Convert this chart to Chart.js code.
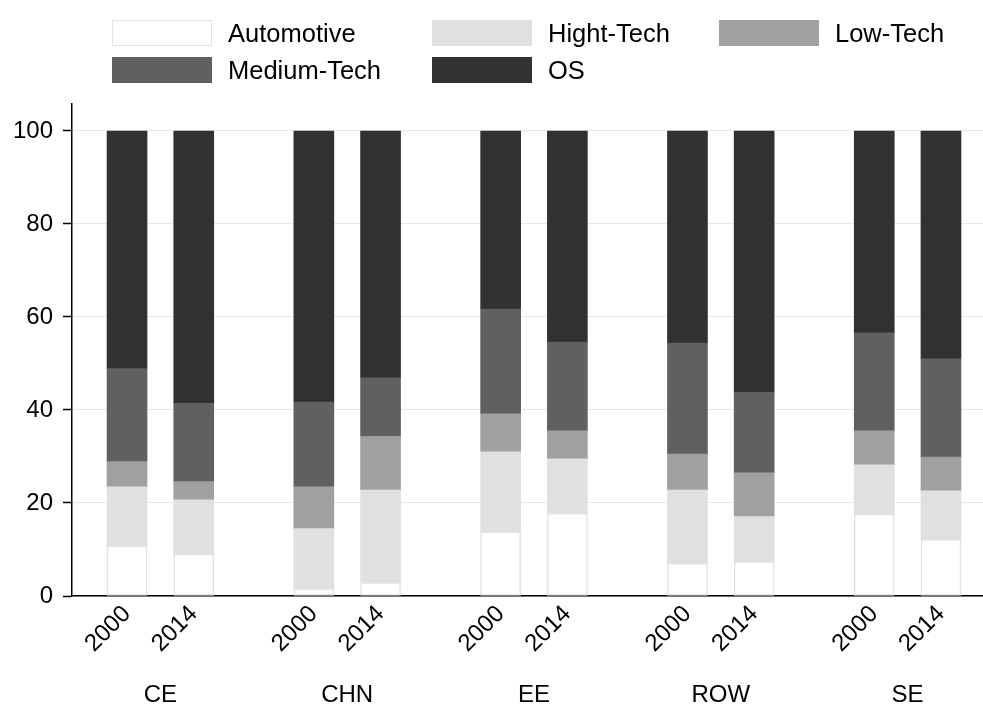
<!DOCTYPE html>
<html lang="en">
<head>
  <meta charset="UTF-8">
  <title>Sector shares by region, 2000 and 2014</title>
  <script src="https://cdn.jsdelivr.net/npm/chart.js"></script>
  <style>
    html, body { margin: 0; padding: 0; background: #fff; }
    body { width: 983px; height: 707px; position: relative; overflow: hidden;
           font-family: "Liberation Sans", Arial, sans-serif; }
    #wrap { position: absolute; left: 0; top: 0; width: 983px; height: 707px; }
    #legend { position: absolute; left: 112px; top: 20px; z-index: 2;
              display: grid; grid-template-columns: 320px 287px auto; row-gap: 11px; }
    .item { display: flex; align-items: center; height: 26px; font-size: 25.5px; color: #000; }
    .box { width: 100px; height: 26px; box-sizing: border-box; margin-right: 16px; }
  </style>
</head>
<body>
  <div id="legend"></div>
  <div id="wrap"><canvas id="chart"></canvas></div>

  <script>
    // regions and the two years shown for each
    const groups = ['CE', 'CHN', 'EE', 'ROW', 'SE'];
    const years = ['2000', '2014'];

    // shares (%) per bar, order: CE 2000, CE 2014, CHN 2000, CHN 2014, ...
    const automotive = [10.8, 9.0, 1.6, 2.9, 13.8, 17.8, 7.0, 7.4, 17.6, 12.2];
    const highTech   = [12.7, 11.7, 12.9, 19.9, 17.2, 11.7, 15.8, 9.7, 10.6, 10.4];
    const lowTech    = [5.4, 3.9, 9.0, 11.5, 8.2, 6.0, 7.7, 9.4, 7.3, 7.3];
    const mediumTech = [20.0, 16.8, 18.2, 12.6, 22.5, 19.1, 23.9, 17.3, 21.1, 21.1];
    const os         = [51.1, 58.6, 58.3, 53.1, 38.3, 45.4, 45.6, 56.2, 43.4, 49.0];

    const yTicks = [0, 20, 40, 60, 80, 100];

    const series = [
      { label: 'Automotive',  data: automotive, color: '#ffffff', border: '#e2e2e2' },
      { label: 'Hight-Tech',  data: highTech,   color: '#e0e0e0' },
      { label: 'Low-Tech',    data: lowTech,    color: '#a0a0a0' },
      { label: 'Medium-Tech', data: mediumTech, color: '#606060' },
      { label: 'OS',          data: os,         color: '#313131' }
    ];

    // bar slots: the two years sit one unit apart, groups 2.8 units apart
    const groupStep = 2.8;
    const xPos = groups.flatMap((g, gi) => years.map((y, yi) => gi * groupStep + yi));

    // legend (columns line up like the original)
    const legend = document.getElementById('legend');
    series.forEach(s => {
      const item = document.createElement('div');
      item.className = 'item';
      const box = document.createElement('span');
      box.className = 'box';
      box.style.background = s.color;
      if (s.border) box.style.border = '1.5px solid ' + s.border;
      item.appendChild(box);
      item.appendChild(document.createTextNode(s.label));
      legend.appendChild(item);
    });

    // region names under each pair of bars
    const groupLabels = {
      id: 'groupLabels',
      afterDraw(chart) {
        const ctx = chart.ctx;
        const x = chart.scales.x;
        ctx.save();
        ctx.font = '24px "Liberation Sans", Arial, sans-serif';
        ctx.fillStyle = '#000';
        ctx.textAlign = 'center';
        ctx.textBaseline = 'middle';
        groups.forEach((g, gi) => {
          ctx.fillText(g, x.getPixelForValue(gi * groupStep + 0.5), chart.chartArea.bottom + 99);
        });
        ctx.restore();
      }
    };

    const font = { family: '"Liberation Sans", Arial, sans-serif', size: 24 };

    new Chart(document.getElementById('chart'), {
      type: 'bar',
      data: {
        datasets: series.map(s => ({
          label: s.label,
          data: s.data.map((v, i) => ({ x: xPos[i], y: v })),
          backgroundColor: s.color,
          borderColor: s.border || s.color,
          borderWidth: s.border ? 1.5 : 0,
          borderSkipped: false,
          barThickness: 40,
          grouped: false
        }))
      },
      options: {
        responsive: true,
        maintainAspectRatio: false,
        animation: false,
        layout: { padding: { top: 104, right: 0, left: 0, bottom: 0 } },
        plugins: {
          legend: { display: false },
          tooltip: { enabled: false }
        },
        scales: {
          x: {
            type: 'linear',
            stacked: true,
            offset: false,
            min: -0.825,
            max: 12.83,
            afterBuildTicks: scale => { scale.ticks = xPos.map(v => ({ value: v })); },
            afterFit: scale => { scale.height = 111; },
            grid: { display: false, drawTicks: false },
            border: { display: true, color: '#000', width: 1.5 },
            ticks: {
              autoSkip: false,
              minRotation: 45,
              maxRotation: 45,
              padding: 4,
              color: '#000',
              font: font,
              callback: v => years[xPos.indexOf(v) % 2]
            }
          },
          y: {
            stacked: true,
            min: 0,
            max: 105.8,
            afterBuildTicks: scale => { scale.ticks = yTicks.map(v => ({ value: v })); },
            afterFit: scale => { scale.width = 72; },
            grid: { color: '#e8e8e8', lineWidth: 1, tickColor: '#000', tickLength: 9, tickWidth: 1.5 },
            border: { display: true, color: '#000', width: 1.5 },
            ticks: { padding: 10, color: '#000', font: font }
          }
        }
      },
      plugins: [groupLabels]
    });
  </script>
</body>
</html>
